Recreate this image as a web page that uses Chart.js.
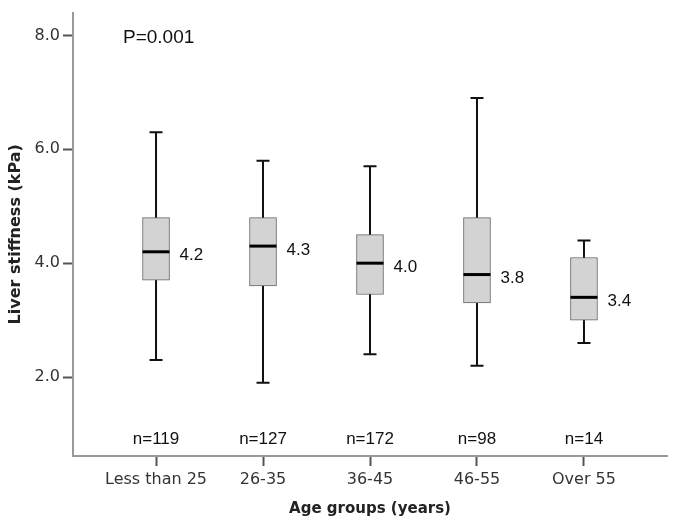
<!DOCTYPE html>
<html>
<head>
<meta charset="utf-8">
<script src="https://cdn.jsdelivr.net/npm/chart.js@4.4.1/dist/chart.umd.min.js"></script>
<style>
  html, body { margin: 0; padding: 0; background: #fff; }
  #wrap { width: 675px; height: 526px; }
</style>
</head>
<body>
<div id="wrap"><canvas id="boxChart"></canvas></div>
<script>
// Datos
const categories = ['Less than 25', '26-35', '36-45', '46-55', 'Over 55'];
const whiskerLow = [2.3, 1.9, 2.4, 2.2, 2.6];
const q1 = [3.7, 3.6, 3.45, 3.3, 3.0];
const median = [4.2, 4.3, 4.0, 3.8, 3.4];
const q3 = [4.8, 4.8, 4.5, 4.8, 4.1];
const whiskerHigh = [6.3, 5.8, 5.7, 6.9, 4.4];
const counts = [119, 127, 172, 98, 14];
const yTicks = [2, 4, 6, 8];
const pValue = 'P=0.001';

const boxWidth = 27;
const capWidth = 13;

// Bigotes, medianas y etiquetas
const boxPlotExtras = {
  id: 'boxPlotExtras',
  beforeDatasetsDraw(chart) {
    const { ctx, scales: { x, y } } = chart;
    ctx.save();
    ctx.strokeStyle = '#111';
    ctx.lineWidth = 2;
    categories.forEach((c, i) => {
      const px = x.getPixelForValue(i);
      const yLo = y.getPixelForValue(whiskerLow[i]);
      const yHi = y.getPixelForValue(whiskerHigh[i]);
      ctx.beginPath();
      ctx.moveTo(px, yLo);
      ctx.lineTo(px, yHi);
      ctx.moveTo(px - capWidth / 2, yLo);
      ctx.lineTo(px + capWidth / 2, yLo);
      ctx.moveTo(px - capWidth / 2, yHi);
      ctx.lineTo(px + capWidth / 2, yHi);
      ctx.stroke();
    });
    ctx.restore();
  },
  afterDatasetsDraw(chart) {
    const { ctx, chartArea, scales: { x, y } } = chart;
    ctx.save();
    ctx.fillStyle = '#111';
    ctx.font = '17px Arial, "Liberation Sans", sans-serif';
    ctx.textBaseline = 'middle';
    categories.forEach((c, i) => {
      const px = x.getPixelForValue(i);
      const pm = y.getPixelForValue(median[i]);
      ctx.strokeStyle = '#000';
      ctx.lineWidth = 3;
      ctx.beginPath();
      ctx.moveTo(px - boxWidth / 2, pm);
      ctx.lineTo(px + boxWidth / 2, pm);
      ctx.stroke();

      ctx.textAlign = 'left';
      ctx.fillText(median[i].toFixed(1), px + boxWidth / 2 + 10, pm + 4);

      ctx.textAlign = 'center';
      ctx.fillText('n=' + counts[i], px, chartArea.bottom - 17);
    });
    ctx.font = '19px Arial, "Liberation Sans", sans-serif';
    ctx.textAlign = 'left';
    ctx.fillText(pValue, chartArea.left + 50, chartArea.top + 25);
    ctx.restore();
  }
};

new Chart(document.getElementById('boxChart'), {
  type: 'bar',
  data: {
    datasets: [{
      data: categories.map((c, i) => ({ x: i, y: [q1[i], q3[i]] })),
      backgroundColor: '#d3d3d3',
      borderColor: '#666',
      borderWidth: 1,
      borderSkipped: false,
      barThickness: boxWidth
    }]
  },
  options: {
    responsive: true,
    maintainAspectRatio: false,
    animation: false,
    layout: { padding: { top: 7, right: 8, left: 0, bottom: 0 } },
    plugins: {
      legend: { display: false },
      tooltip: { enabled: false }
    },
    scales: {
      x: {
        type: 'linear',
        offset: false,
        min: -0.776,
        max: 4.776,
        afterBuildTicks: (scale) => {
          scale.ticks = categories.map((c, i) => ({ value: i }));
        },
        afterFit: (scale) => { scale.height = 70; },
        grid: { offset: false, drawOnChartArea: false, tickLength: 10, tickColor: '#555', tickWidth: 2 },
        border: { color: '#999', width: 2 },
        ticks: {
          color: '#333',
          padding: 4,
          maxRotation: 0,
          font: { family: 'DejaVu Sans', size: 16 },
          callback: (v) => categories[v]
        },
        title: {
          display: true,
          text: 'Age groups (years)',
          color: '#222',
          font: { family: 'DejaVu Sans', size: 15, weight: 'bold' },
          padding: { top: 8, bottom: 8 }
        }
      },
      y: {
        min: 0.614,
        max: 8.4,
        afterBuildTicks: (scale) => {
          scale.ticks = yTicks.map(v => ({ value: v }));
        },
        afterFit: (scale) => { scale.width = 73; },
        grid: { drawOnChartArea: false, tickLength: 10, tickColor: '#555', tickWidth: 2 },
        border: { color: '#999', width: 2 },
        ticks: {
          color: '#333',
          padding: 3,
          font: { family: 'DejaVu Sans', size: 16 },
          callback: (v) => Number(v).toFixed(1)
        },
        title: {
          display: true,
          text: 'Liver stiffness (kPa)',
          color: '#222',
          font: { family: 'DejaVu Sans', size: 16, weight: 'bold' },
          padding: { top: 6, bottom: 6 }
        }
      }
    }
  },
  plugins: [boxPlotExtras]
});
</script>
</body>
</html>
